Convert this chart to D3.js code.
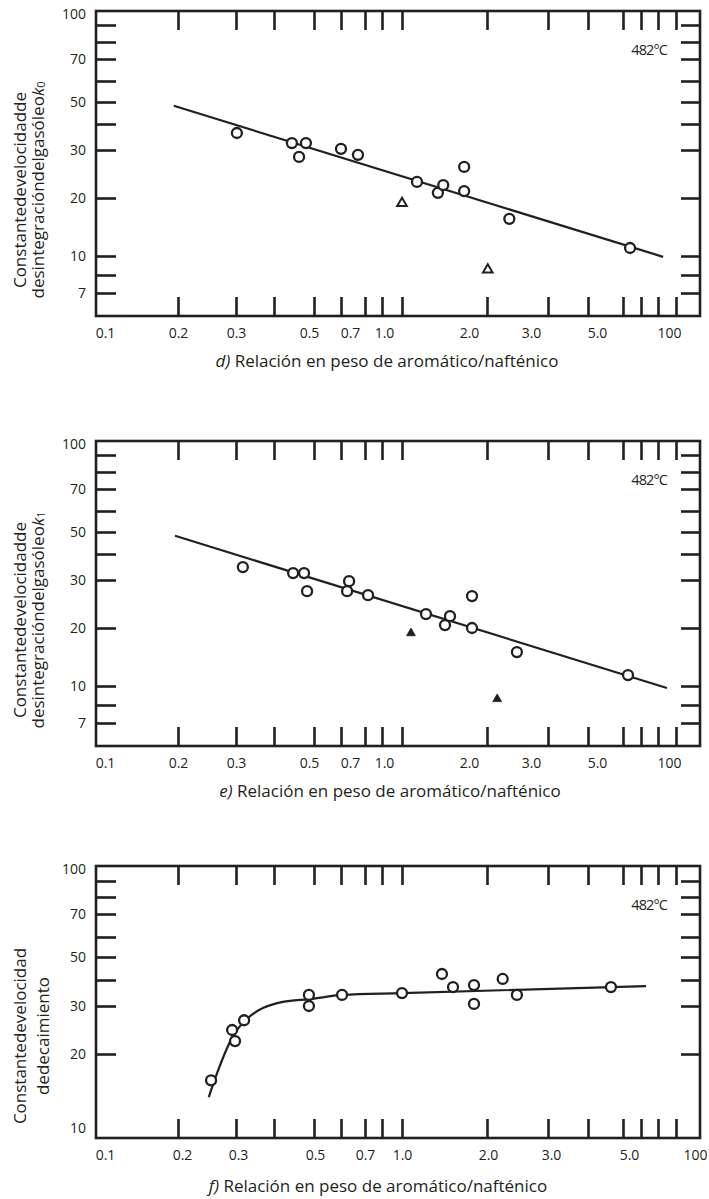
<!DOCTYPE html>
<html>
<head>
<meta charset="utf-8">
<script src="https://cdn.jsdelivr.net/npm/d3@7"></script>
<style>
  body { margin: 0; background: #fff; }
  svg text { font-family: "Open Sans", "Noto Sans", sans-serif; fill: #231f20; }
</style>
</head>
<body>
<div id="chart"></div>
<script>

// #####################################################
// Axis values (the drawing skips 0.9 and 9 on the x ticks)
//
var xTickVals   = [0.2, 0.3, 0.4, 0.5, 0.6, 0.7, 0.8, 1, 2, 3, 4, 5, 6, 7, 8];
var xLabelVals  = [0.1, 0.2, 0.3, 0.5, 0.7, 1, 2, 3, 5, 10];
var xLabelText  = ["0.1", "0.2", "0.3", "0.5", "0.7", "1.0", "2.0", "3.0", "5.0", "100"];

var yTickVals   = [90, 80, 70, 60, 50, 40, 30, 20, 10, 8, 7];
var yTickValsF  = [90, 80, 70, 60, 50, 40, 30, 20];
var yLabelVals  = [100, 70, 50, 30, 20, 10, 7];
var yLabelValsF = [100, 70, 50, 30, 20, 10];

var xTitle = " Relación en peso de aromático/nafténico";

// #####################################################
// Panel d)
//
var dCircles = [[0.302, 36.2], [0.442, 32.4], [0.460, 28.3], [0.478, 32.4], [0.60, 30.4],
                [0.669, 28.8], [1.13, 22.9], [1.34, 20.9], [1.40, 22.3], [1.66, 26.0],
                [1.66, 21.2], [2.32, 15.6], [5.37, 11.0]];
var dTriangles = [[1.0, 18.8], [2.01, 8.5]];
var dFit = [[0.193, 48.1], [7.27, 9.9]];

// #####################################################
// Panel e)
//
var eCircles = [[0.316, 34.6], [0.445, 32.4], [0.473, 32.4], [0.481, 27.3], [0.624, 27.3],
                [0.632, 29.7], [0.717, 26.4], [1.216, 22.5], [1.42, 20.5], [1.479, 22.1],
                [1.77, 26.2], [1.77, 20.0], [2.44, 15.0], [5.26, 11.4]];
var eTriangles = [[1.076, 18.8], [2.14, 8.58]];
var eFit = [[0.195, 48.1], [7.48, 9.77]];

// #####################################################
// Panel f)
//
var fCircles = [[0.252, 16.1], [0.292, 24.5], [0.298, 22.3], [0.319, 26.6], [0.486, 33.9],
                [0.486, 30.0], [0.604, 33.9], [1.0, 34.6], [1.385, 42.4], [1.516, 37.0],
                [1.799, 37.8], [1.799, 30.7], [2.22, 40.4], [2.44, 33.9], [4.63, 37.0]];
var fCurve = [[0.248, 14.0], [0.263, 17.1], [0.294, 23.3], [0.319, 26.3], [0.42, 31.4],
              [0.49, 32.4], [0.604, 33.9], [1.0, 34.6], [6.28, 37.4]];

// set the dimensions of the page
var W = 709, H = 1199;
var left = 96, right = 700;
var width = right - left;
var ink = "#231f20";

var svg = d3.select("#chart").append("svg")
    .attr("width", W)
    .attr("height", H);

// hand drawn log axis: the stops are where the printed ticks fall
var xStopVals = [0.1, 0.2, 0.3, 0.4, 0.5, 0.6, 0.7, 0.8, 1, 2, 3, 4, 5, 6, 7, 8, 10];
var xStopPix  = [0, 82, 140, 178, 218, 245, 269, 286, 306, 391, 452, 492, 527, 545, 562, 580, 604];
var x = d3.scaleLog().domain(xStopVals).range(xStopPix);

// the printed numbers do not sit under their ticks in d) and e)
var xLabD = d3.scaleLog().domain(xLabelVals).range([9, 82, 140, 213, 254, 288, 373, 435, 501, 573]);
var xLabF = d3.scaleLog().domain(xLabelVals).range([9, 86, 142, 219, 269, 306, 392, 455, 533, 599]);

var panels = [
  { top: 11, height: 305, letter: "d)", sub: "0", xLab: xLabD, titleX: 291,
    lines: ["Constantedevelocidadde", "desintegracióndelgasóleo"],
    yVals: [6, 7, 8, 10, 20, 30, 40, 50, 60, 70, 80, 90, 100],
    yPix:  [305, 282, 264, 245, 187, 139, 113, 91, 70, 48, 31, 14, 0],
    ticks: yTickVals, labels: yLabelVals,
    circles: dCircles, triangles: dTriangles, fill: false, fit: dFit, smooth: false },
  { top: 441, height: 305, letter: "e)", sub: "1", xLab: xLabD, titleX: 294,
    lines: ["Constantedevelocidadde", "desintegracióndelgasóleo"],
    yVals: [6, 7, 8, 10, 20, 30, 40, 50, 60, 70, 80, 90, 100],
    yPix:  [305, 282, 264, 245, 187, 139, 113, 91, 70, 48, 31, 14, 0],
    ticks: yTickVals, labels: yLabelVals,
    circles: eCircles, triangles: eTriangles, fill: true, fit: eFit, smooth: false },
  { top: 866, height: 272, letter: "f)", sub: null, xLab: xLabF, titleX: 282,
    lines: ["Constantedevelocidad", "dedecaimiento"],
    yVals: [10, 20, 30, 40, 50, 60, 70, 80, 90, 100],
    yPix:  [272, 188, 140, 114, 91, 71, 48, 31, 15, 0],
    ticks: yTickValsF, labels: yLabelValsF,
    circles: fCircles, triangles: [], fill: false, fit: fCurve, smooth: true }
];

function style_ticks (g) {
  g.select(".domain").remove();
  g.selectAll(".tick line").attr("stroke", ink).attr("stroke-width", 2.6);
}

function style_labels (g) {
  g.select(".domain").remove();
  g.selectAll(".tick line").remove();
  g.selectAll(".tick text").attr("fill", ink).style("font-size", "14px")
    .attr("font-family", null);
}

// #####################################################
// Draw one panel
//
function plot_panel (p) {
  var h = p.height;
  var y = d3.scaleLog().domain(p.yVals).range(p.yPix);

  var g = svg.append("g")
      .attr("transform", "translate(" + left + "," + p.top + ")");

  // ticks on all four sides, pointing inwards
  g.append("g").attr("transform", "translate(0," + h + ")")
    .call(d3.axisBottom(x).tickValues(xTickVals).tickSize(-19).tickSizeOuter(0).tickFormat(""))
    .call(style_ticks);
  g.append("g")
    .call(d3.axisTop(x).tickValues(xTickVals).tickSize(-19).tickSizeOuter(0).tickFormat(""))
    .call(style_ticks);
  g.append("g")
    .call(d3.axisLeft(y).tickValues(p.ticks).tickSize(-20).tickSizeOuter(0).tickFormat(""))
    .call(style_ticks);
  g.append("g").attr("transform", "translate(" + width + ",0)")
    .call(d3.axisRight(y).tickValues(p.ticks).tickSize(-19).tickSizeOuter(0).tickFormat(""))
    .call(style_ticks);

  // tick labels
  g.append("g").attr("transform", "translate(0," + h + ")")
    .call(d3.axisBottom(p.xLab).tickValues(xLabelVals).tickSize(0).tickPadding(12)
            .tickFormat(function(d, i) { return xLabelText[i]; }))
    .call(style_labels);
  var yl = g.append("g")
    .call(d3.axisLeft(y).tickValues(p.labels).tickSize(0).tickPadding(10)
            .tickFormat(d3.format("d")))
    .call(style_labels);
  // labels at the frame corners sit just inside it
  yl.selectAll(".tick text")
    .attr("dy", function(d) {
      if (d == 100) return "0.55em";
      if (d == 10 && !p.sub) return "-0.4em";
      return "0.32em";
    });

  // frame
  g.append("rect")
    .attr("width", width)
    .attr("height", h)
    .attr("fill", "none")
    .attr("stroke", ink)
    .attr("stroke-width", 2.6);

  // fitted line / curve
  var line = d3.line()
      .x(function(d) { return x(d[0]); })
      .y(function(d) { return y(d[1]); });
  if (p.smooth) line.curve(d3.curveMonotoneX);

  g.append("path")
    .datum(p.fit)
    .attr("fill", "none")
    .attr("stroke", ink)
    .attr("stroke-width", 2.2)
    .attr("d", line);

  // observed points
  g.selectAll("circle.obs")
    .data(p.circles)
    .enter().append("circle")
      .attr("class", "obs")
      .attr("cx", function(d) { return x(d[0]); })
      .attr("cy", function(d) { return y(d[1]); })
      .attr("r", 5)
      .attr("fill", "#fff")
      .attr("stroke", ink)
      .attr("stroke-width", 2.3);

  g.selectAll("path.tri")
    .data(p.triangles)
    .enter().append("path")
      .attr("class", "tri")
      .attr("d", d3.symbol().type(d3.symbolTriangle).size(p.fill ? 34 : 40))
      .attr("transform", function(d) { return "translate(" + x(d[0]) + "," + y(d[1]) + ")"; })
      .attr("fill", p.fill ? ink : "none")
      .attr("stroke", ink)
      .attr("stroke-width", p.fill ? 0.8 : 2);

  // temperature note
  g.append("text")
    .attr("x", 571)
    .attr("y", 38)
    .attr("text-anchor", "end")
    .attr("dominant-baseline", "central")
    .style("font-size", "14.5px")
    .style("letter-spacing", "-0.9px")
    .text("482°C");

  // x title
  var t = g.append("text")
    .attr("x", p.titleX)
    .attr("y", h + (p.sub ? 44 : 47))
    .attr("text-anchor", "middle")
    .attr("dominant-baseline", "central")
    .style("font-size", "17px");
  t.append("tspan").style("font-style", "italic").text(p.letter);
  t.append("tspan").text(xTitle);

  // y title, two rotated lines
  var cy = p.top + (p.sub ? 179 : 170);
  svg.append("text")
    .attr("transform", "translate(19," + cy + ") rotate(-90)")
    .attr("text-anchor", "middle")
    .attr("dominant-baseline", "central")
    .style("font-size", "17px")
    .text(p.lines[0]);

  var t2 = svg.append("text")
    .attr("transform", "translate(" + (p.sub ? 37 : 42) + "," + cy + ") rotate(-90)")
    .attr("text-anchor", "middle")
    .attr("dominant-baseline", "central")
    .style("font-size", "17px");
  t2.append("tspan").text(p.lines[1]);
  if (p.sub) {
    t2.append("tspan").style("font-style", "italic").text("k");
    t2.append("tspan").attr("dy", 3).style("font-size", "11px").text(p.sub);
  }
}

panels.forEach(plot_panel);

</script>
</body>
</html>
